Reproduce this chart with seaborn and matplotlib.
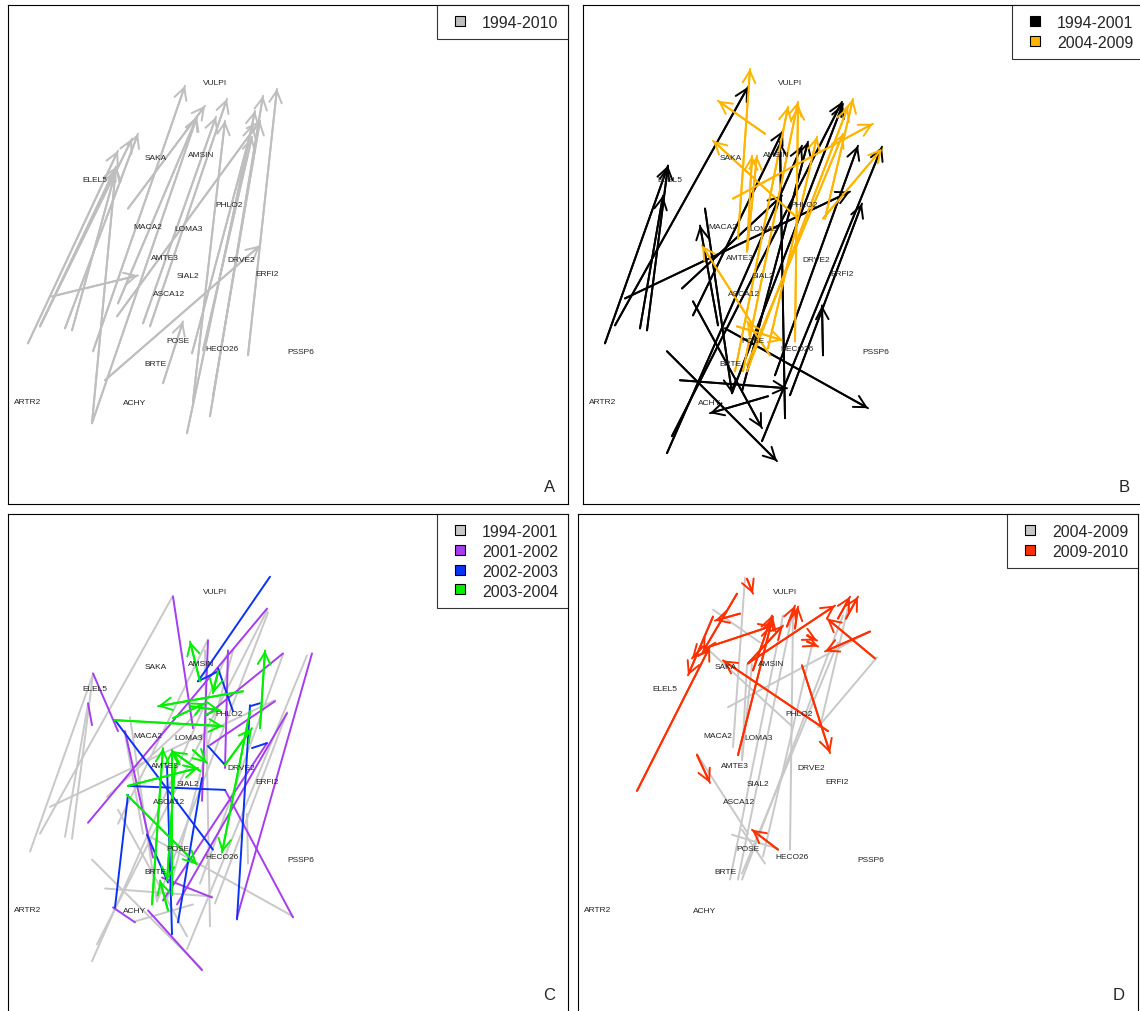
import pandas as pd
import matplotlib.pyplot as plt
import seaborn as sns
from matplotlib.lines import Line2D

# species scores (shared by all four panels)
species = ['VULPI', 'SAKA', 'AMSIN', 'ELEL5', 'PHLO2', 'MACA2', 'LOMA3', 'AMTE3', 'DRVE2',
           'SIAL2', 'ERFI2', 'ASCA12', 'POSE', 'HECO26', 'PSSP6', 'BRTE', 'ARTR2', 'ACHY']
sp_x = [207, 148, 193, 87, 221, 140, 181, 157, 233, 180, 259, 161, 170, 214, 293, 147, 20, 127]
sp_y = [78, 153, 150, 175, 200, 222, 224, 253, 255, 271, 269, 289, 336, 344, 347, 359, 397, 398]

# plot trajectories: (x start, y start, x end, y end)
traj_94_10 = [(20, 339, 110, 146), (32, 322, 108, 162), (44, 292, 130, 271), (32, 322, 124, 134),
              (57, 324, 130, 129), (64, 326, 109, 162), (84, 419, 108, 162), (85, 347, 177, 81),
              (110, 299, 189, 112), (109, 312, 252, 116), (120, 204, 197, 101), (135, 319, 208, 112),
              (142, 322, 219, 94), (97, 376, 252, 241), (155, 379, 175, 317), (179, 429, 247, 106),
              (185, 397, 217, 116), (184, 349, 245, 119), (202, 412, 255, 91), (205, 392, 252, 116),
              (240, 351, 269, 84), (195, 346, 244, 132), (84, 419, 189, 112)]

traj_94_01 = [(22, 339, 85, 161), (57, 324, 80, 191), (64, 326, 85, 161), (32, 321, 165, 82),
              (42, 294, 267, 187), (99, 284, 199, 191), (110, 311, 200, 126), (122, 204, 149, 389),
              (135, 321, 117, 221), (110, 297, 179, 424), (84, 347, 194, 457), (142, 324, 285, 404),
              (97, 376, 204, 384), (185, 392, 127, 409), (89, 432, 259, 97), (84, 449, 219, 141),
              (179, 437, 299, 142), (207, 391, 279, 199), (240, 351, 239, 301), (202, 414, 197, 137),
              (192, 371, 275, 141), (159, 387, 225, 137), (149, 389, 260, 99)]

traj_04_09 = [(155, 234, 167, 64), (182, 129, 135, 96), (215, 214, 130, 136), (150, 194, 290, 119),
              (152, 367, 205, 102), (160, 367, 215, 97), (164, 247, 169, 151), (164, 247, 174, 151),
              (212, 337, 215, 101), (240, 214, 299, 144), (242, 214, 270, 94), (170, 321, 119, 241),
              (154, 322, 200, 336), (187, 351, 164, 317), (185, 344, 234, 132), (164, 367, 265, 102),
              (164, 361, 260, 129)]

traj_01_02 = [(165, 83, 185, 215), (259, 95, 80, 310), (85, 160, 110, 218), (80, 190, 84, 212),
              (117, 218, 145, 345), (275, 140, 199, 202), (304, 140, 229, 405), (267, 188, 202, 232),
              (279, 200, 169, 392), (217, 277, 285, 405), (105, 395, 127, 410), (140, 398, 194, 458),
              (154, 365, 204, 385), (200, 127, 194, 288), (220, 137, 217, 255), (259, 230, 155, 388)]

traj_02_03 = [(262, 63, 190, 168), (190, 168, 210, 158), (107, 207, 205, 337), (120, 282, 107, 395),
              (120, 273, 217, 277), (159, 253, 164, 422), (194, 265, 170, 410), (139, 322, 160, 370),
              (200, 233, 217, 252), (229, 407, 242, 192), (244, 235, 259, 230), (242, 193, 252, 190),
              (225, 198, 210, 155)]

traj_03_04 = [(192, 168, 182, 128), (210, 158, 205, 180), (235, 178, 150, 193), (165, 205, 197, 190),
              (107, 207, 215, 213), (182, 193, 212, 197), (120, 273, 190, 255), (119, 282, 189, 352),
              (185, 237, 199, 250), (192, 258, 164, 238), (242, 198, 214, 340), (217, 252, 244, 215),
              (252, 215, 257, 137), (144, 392, 155, 235), (160, 398, 152, 368), (167, 252, 159, 368),
              (164, 383, 164, 237)]

traj_09_10 = [(59, 278, 132, 133), (159, 80, 125, 138), (162, 100, 137, 107), (135, 103, 110, 162),
              (125, 133, 114, 145), (132, 133, 195, 112), (169, 65, 175, 80), (170, 150, 205, 112),
              (175, 157, 194, 102), (160, 242, 195, 103), (209, 113, 217, 92), (217, 115, 220, 93),
              (170, 150, 257, 92), (224, 152, 252, 240), (250, 218, 145, 147), (297, 145, 249, 105),
              (292, 118, 247, 138), (260, 105, 272, 83), (268, 105, 280, 83), (229, 122, 239, 127),
              (229, 128, 240, 133), (119, 242, 132, 270), (200, 337, 174, 317)]

GREY = '#BEBEBE'
LIGHT = '#C8C8C8'
ORANGE = '#FFB400'
PURPLE = '#A53CF0'
BLUE = '#0A32F5'
GREEN = '#00F000'
RED = '#FF3000'

sns.set_style('white')
plt.rcParams['font.family'] = ['Liberation Sans', 'DejaVu Sans']

fig = plt.figure(figsize=(11.4, 10.12), dpi=100)
W, H = 1140, 1012


def make_ax(left, top, width, height):
    return fig.add_axes([left / W, 1 - (top + height) / H, width / W, height / H])


def draw(ax, segs, color, heads=True):
    rows = []
    for i, (x0, y0, x1, y1) in enumerate(segs):
        rows.append({'seg': i, 'x': x0, 'y': y0})
        rows.append({'seg': i, 'x': x1, 'y': y1})
    df = pd.DataFrame(rows)
    sns.lineplot(data=df, x='x', y='y', units='seg', estimator=None, sort=False,
                 color=color, lw=1.4, ax=ax, legend=False)
    if heads:
        for x0, y0, x1, y1 in segs:
            ax.annotate('', xy=(x1, y1), xytext=(x0, y0),
                        arrowprops=dict(arrowstyle='->,head_length=0.85,head_width=0.45',
                                        color=color, lw=1.4, shrinkA=0, shrinkB=0))


def finish(ax, letter, legend_items):
    for name, x, y in zip(species, sp_x, sp_y):
        ax.text(x, y, name, fontsize=6, ha='center', va='center', color='#222222')
    ax.set_xlim(0, 560)
    ax.set_ylim(500, 0)
    ax.set(xlabel='', ylabel='', xticks=[], yticks=[])
    for s in ax.spines.values():
        s.set_color('black')
        s.set_linewidth(0.8)
    ax.text(0.977, 0.02, letter, transform=ax.transAxes, fontsize=12, ha='right', va='bottom')
    handles = [Line2D([], [], marker='s', ls='', markerfacecolor=c, markeredgecolor='black',
                      markeredgewidth=0.8, markersize=7.5, label=lab) for lab, c in legend_items]
    leg = ax.legend(handles=handles, loc='upper right', fontsize=11.5, frameon=True,
                    fancybox=False, edgecolor='black', borderaxespad=0, handletextpad=0.6,
                    labelspacing=0.3, borderpad=0.6, handlelength=1.6, handleheight=0.9)
    leg.get_frame().set_linewidth(0.8)


# A
axA = make_ax(8, 6, 560, 499)
draw(axA, traj_94_10, GREY)
finish(axA, 'A', [('1994-2010', GREY)])

# B
axB = make_ax(583, 6, 560, 499)
draw(axB, traj_94_01, 'black')
draw(axB, traj_04_09, ORANGE)
finish(axB, 'B', [('1994-2001', 'black'), ('2004-2009', ORANGE)])

# C
axC = make_ax(8, 515, 560, 498)
draw(axC, traj_94_01, LIGHT, heads=False)
draw(axC, traj_01_02, PURPLE, heads=False)
draw(axC, traj_02_03, BLUE, heads=False)
draw(axC, traj_03_04, GREEN)
finish(axC, 'C', [('1994-2001', LIGHT), ('2001-2002', PURPLE),
                  ('2002-2003', BLUE), ('2003-2004', GREEN)])

# D
axD = make_ax(578, 515, 560, 498)
draw(axD, traj_04_09, LIGHT, heads=False)
draw(axD, traj_09_10, RED)
finish(axD, 'D', [('2004-2009', LIGHT), ('2009-2010', RED)])

fig.savefig('out.png', dpi=100)
